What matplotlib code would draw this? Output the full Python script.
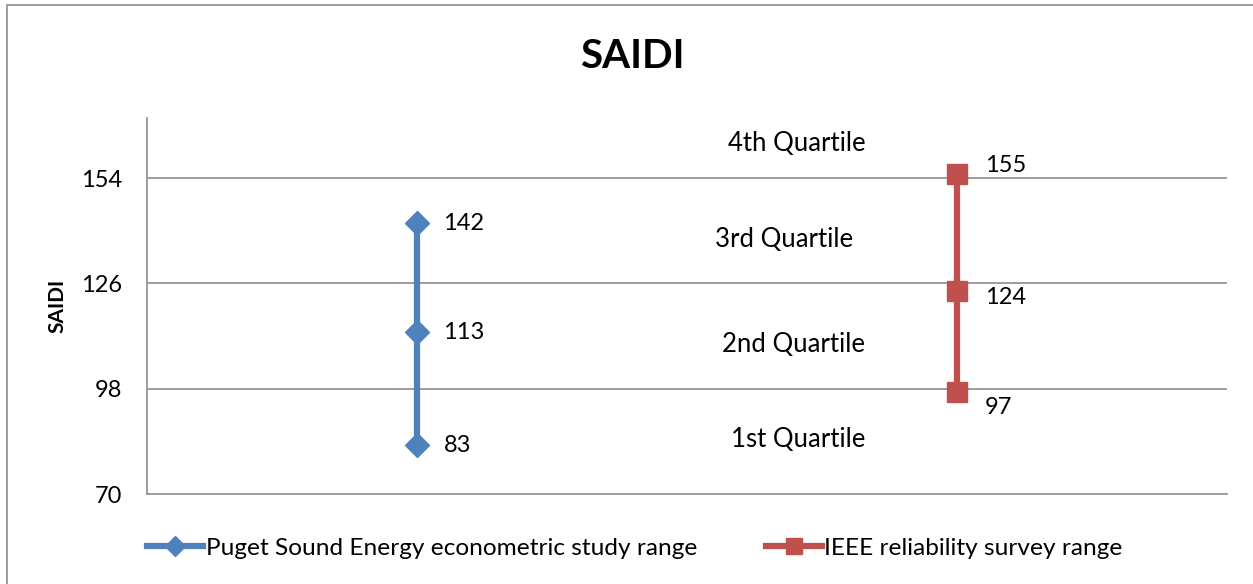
import matplotlib.pyplot as plt
from matplotlib.patches import Rectangle
from matplotlib.lines import Line2D

plt.rcParams['font.family'] = ['Lato', 'DejaVu Sans']

# data
pse_vals = [83, 113, 142]
ieee_vals = [97, 124, 155]
series_names = ["Puget Sound Energy econometric study range", "IEEE reliability survey range"]
yticks = [70, 98, 126, 154]
quartile_labels = ["1st Quartile", "2nd Quartile", "3rd Quartile", "4th Quartile"]
quartile_y = [84.4, 109.7, 137.7, 163.3]
quartile_x = [0.83, 0.83, 0.807, 0.83]

blue = '#4F81BD'
red = '#C0504D'

fig = plt.figure(figsize=(12.53, 5.84), dpi=100)
ax = fig.add_axes([147/1253, 1 - 494/584, 1080/1253, 376/584])

ax.plot([0] * 3, pse_vals, color=blue, lw=4.5, marker='D', ms=12, zorder=3)
ax.plot([1] * 3, ieee_vals, color=red, lw=4.5, marker='s', ms=15, zorder=3)

for v in pse_vals:
    ax.annotate(str(v), (0, v), xytext=(19, 0), textcoords='offset points',
                va='center', ha='left', fontsize=17)
ieee_offsets = [(20, -11), (20, -5), (20, 6.5)]
for v, off in zip(ieee_vals, ieee_offsets):
    ax.annotate(str(v), (1, v), xytext=off, textcoords='offset points',
                va='center', ha='left', fontsize=17)

for lab, x, y in zip(quartile_labels, quartile_x, quartile_y):
    ax.text(x, y, lab, ha='right', va='center', fontsize=18.5)

ax.set_xlim(-0.5, 1.5)
ax.set_ylim(70, 170)
ax.set_yticks(yticks)
ax.set_yticklabels([str(t) for t in yticks], fontsize=17)
ax.set_xticks([])
ax.tick_params(axis='y', length=0, pad=18)
for t in yticks[1:]:
    ax.axhline(t, color='#8c8c8c', lw=1.2, zorder=1)
for s in ['top', 'right']:
    ax.spines[s].set_visible(False)
for s in ['left', 'bottom']:
    ax.spines[s].set_color('#8c8c8c')
    ax.spines[s].set_linewidth(1.2)

ax.set_ylabel("SAIDI", fontsize=15, fontweight='bold', labelpad=10)
fig.text(632/1253, 1 - 57/584, "SAIDI", ha='center', va='center',
         fontsize=29, fontweight='bold')

handles = [Line2D([], [], color=blue, lw=4.5, marker='D', ms=10),
           Line2D([], [], color=red, lw=4.5, marker='s', ms=11)]
fig.legend(handles, series_names, loc='center', bbox_to_anchor=(635/1253, 1 - 548/584),
           ncol=2, frameon=False, fontsize=17.6, handlelength=2.3, handletextpad=0.1,
           columnspacing=2.8)

fig.add_artist(Rectangle((7/1253, -0.01), 1.1, 1 - 5/584 + 0.01, transform=fig.transFigure,
                         fill=False, edgecolor='#8c8c8c', lw=1.2))

fig.savefig("out.png", dpi=100)
